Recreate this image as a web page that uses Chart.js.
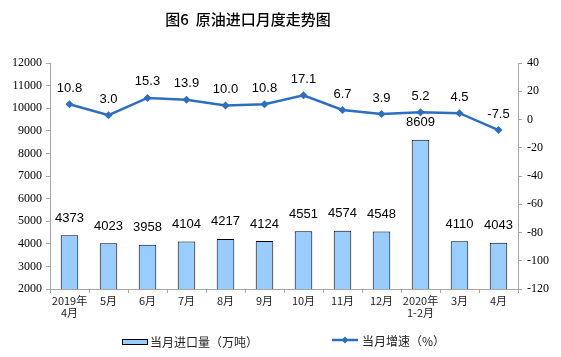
<!DOCTYPE html>
<html>
<head>
<meta charset="utf-8">
<script src="https://cdn.jsdelivr.net/npm/chart.js@4/dist/chart.umd.min.js"></script>
<style>
  html, body { margin: 0; padding: 0; background: #fff; }
  #wrap { width: 561px; height: 357px; position: relative; }
</style>
</head>
<body>
<div id="wrap"><canvas id="myChart" width="561" height="357"></canvas></div>
<script>
const months = [['2019年', '4月'], '5月', '6月', '7月', '8月', '9月', '10月', '11月', '12月', ['2020年', '1-2月'], '3月', '4月']
const imports = [4373, 4023, 3958, 4104, 4217, 4124, 4551, 4574, 4548, 8609, 4110, 4043]
const growth = [10.8, 3.0, 15.3, 13.9, 10.0, 10.8, 17.1, 6.7, 3.9, 5.2, 4.5, -7.5]
const leftTicks = [2000, 12000, 1000]
const rightTicks = [-120, 40, 20]

const titleText = '图6  原油进口月度走势图'
const barName = '当月进口量（万吨）'
const lineName = '当月增速（%）'

const barColor = '#99CCFF'
const lineColor = '#2E6EBE'
const axisColor = '#A6A6A6'

// value labels + title + legend drawn on top
const extras = {
    id: 'extras',
    afterDatasetsDraw(chart) {
        const ctx = chart.ctx
        ctx.save()
        ctx.fillStyle = '#000'
        ctx.textAlign = 'center'
        ctx.textBaseline = 'middle'
        ctx.font = '13px "Liberation Sans", Arial, sans-serif'
        chart.getDatasetMeta(1).data.forEach((bar, i) => {
            ctx.fillText(String(imports[i]), bar.x, bar.y - 17)
        })
        chart.getDatasetMeta(0).data.forEach((pt, i) => {
            ctx.fillText(growth[i].toFixed(1), pt.x, pt.y - 16)
        })
        ctx.restore()
    },
    afterDraw(chart) {
        const ctx = chart.ctx
        ctx.save()
        ctx.fillStyle = '#000'
        ctx.textBaseline = 'middle'
        ctx.textAlign = 'center'
        ctx.font = '500 15px "Noto Sans CJK SC", sans-serif'
        ctx.fillText(titleText, 248, 19)

        // legend
        ctx.font = '12px "Noto Sans CJK SC", sans-serif'
        ctx.textAlign = 'left'
        ctx.fillStyle = barColor
        ctx.strokeStyle = '#000'
        ctx.lineWidth = 1
        ctx.fillRect(122.5, 339.5, 25, 5)
        ctx.strokeRect(122.5, 339.5, 25, 5)
        ctx.fillStyle = '#222'
        ctx.fillText(barName, 150, 342)

        ctx.strokeStyle = lineColor
        ctx.lineWidth = 2.5
        ctx.beginPath()
        ctx.moveTo(332, 340)
        ctx.lineTo(358, 340)
        ctx.stroke()
        ctx.fillStyle = lineColor
        ctx.beginPath()
        ctx.moveTo(345, 336.5)
        ctx.lineTo(348.5, 340)
        ctx.lineTo(345, 343.5)
        ctx.lineTo(341.5, 340)
        ctx.closePath()
        ctx.fill()
        ctx.fillStyle = '#222'
        ctx.fillText(lineName, 362, 341)
        ctx.restore()
    }
}

function renderChart() {
    const chartEl = document.getElementById('myChart')
    new Chart(chartEl, {
        data: {
            labels: months,
            datasets: [{
                type: 'line',
                label: lineName,
                data: growth,
                yAxisID: 'y2',
                borderColor: lineColor,
                backgroundColor: lineColor,
                borderWidth: 2.5,
                pointStyle: 'rectRot',
                pointRadius: 4,
                pointBorderWidth: 0,
                tension: 0,
                order: 0
            }, {
                type: 'bar',
                label: barName,
                data: imports,
                yAxisID: 'y',
                backgroundColor: barColor,
                borderColor: '#000',
                borderWidth: 1,
                barPercentage: 0.45,
                categoryPercentage: 1,
                order: 1
            }]
        },
        options: {
            responsive: false,
            animation: false,
            layout: { padding: { top: 63, left: 0, right: 0, bottom: 0 } },
            plugins: {
                legend: { display: false },
                title: { display: false },
                tooltip: { enabled: false }
            },
            scales: {
                x: {
                    offset: true,
                    grid: {
                        offset: true,
                        drawOnChartArea: false,
                        drawTicks: true,
                        tickLength: 4,
                        color: axisColor
                    },
                    border: { color: axisColor, width: 1 },
                    ticks: {
                        color: '#222',
                        padding: 2,
                        maxRotation: 0,
                        autoSkip: false,
                        font: { family: '"Noto Sans CJK SC", sans-serif', size: 11, lineHeight: 1.1 }
                    },
                    afterFit(scale) { scale.height = 68 }
                },
                y: {
                    position: 'left',
                    min: leftTicks[0],
                    max: leftTicks[1],
                    grid: {
                        drawOnChartArea: false,
                        drawTicks: true,
                        tickLength: 4,
                        color: axisColor
                    },
                    border: { color: axisColor, width: 1 },
                    ticks: {
                        stepSize: leftTicks[2],
                        color: '#000',
                        padding: 4,
                        callback: v => String(v),
                        font: { family: '"Liberation Serif", "DejaVu Serif", serif', size: 12 }
                    },
                    afterFit(scale) { scale.width = 50 }
                },
                y2: {
                    position: 'right',
                    min: rightTicks[0],
                    max: rightTicks[1],
                    grid: {
                        drawOnChartArea: false,
                        drawTicks: true,
                        tickLength: 4,
                        color: axisColor
                    },
                    border: { color: axisColor, width: 1 },
                    ticks: {
                        stepSize: rightTicks[2],
                        color: '#000',
                        padding: 5,
                        callback: v => String(v),
                        font: { family: '"Liberation Serif", "DejaVu Serif", serif', size: 12 }
                    },
                    afterFit(scale) { scale.width = 43 }
                }
            }
        },
        plugins: [extras]
    })
}

renderChart()
</script>
</body>
</html>
